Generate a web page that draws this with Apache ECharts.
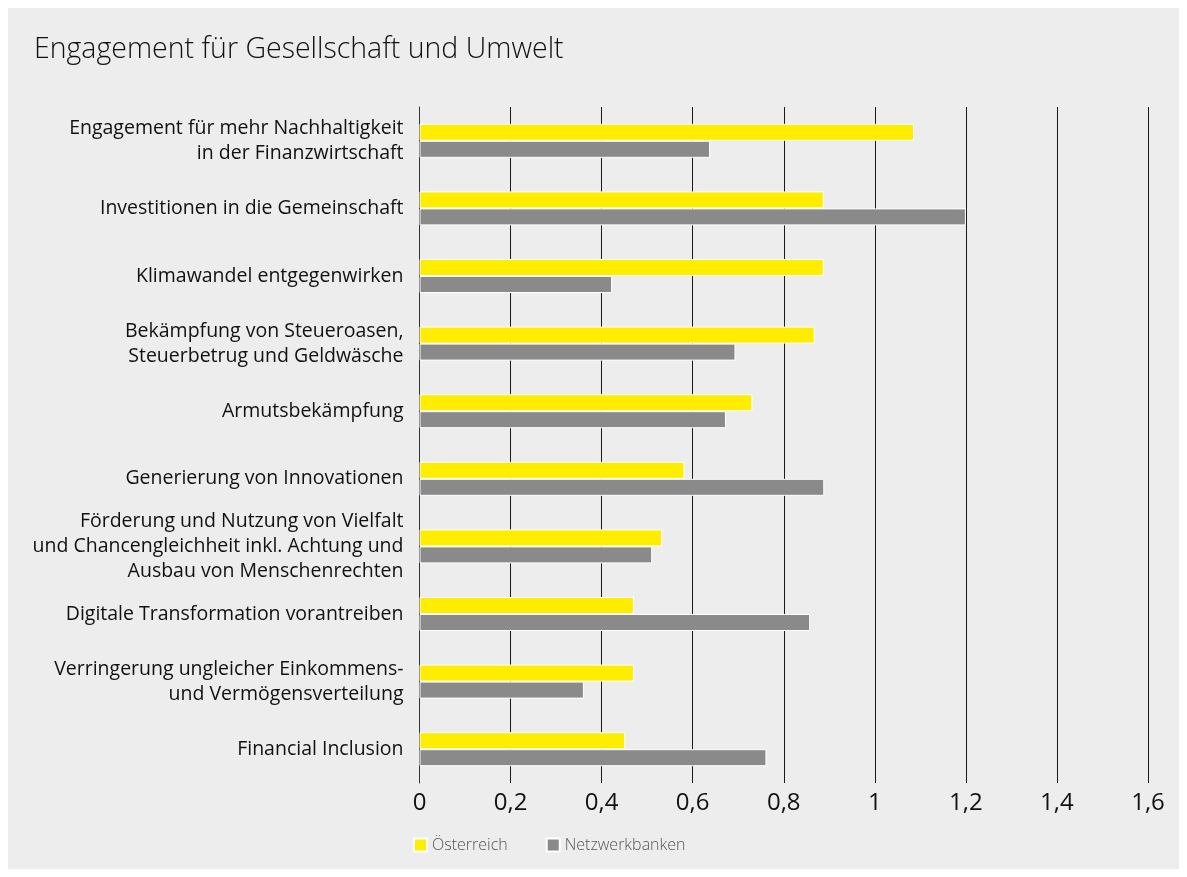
<!DOCTYPE html>
<html>
<head>
<meta charset="utf-8">
<title>Engagement für Gesellschaft und Umwelt</title>
<script src="https://cdn.jsdelivr.net/npm/echarts@6/dist/echarts.min.js"></script>
<style>
  html, body { margin: 0; padding: 0; background: #ffffff; }
  #chart { position: absolute; left: 8px; top: 8px; width: 1171px; height: 861px; background: #ecedec; }
</style>
</head>
<body>
<div id="chart"></div>
<script>
// Kategorien (von oben nach unten)
var categories = [
  'Engagement für mehr Nachhaltigkeit\nin der Finanzwirtschaft',
  'Investitionen in die Gemeinschaft',
  'Klimawandel entgegenwirken',
  'Bekämpfung von Steueroasen,\nSteuerbetrug und Geldwäsche',
  'Armutsbekämpfung',
  'Generierung von Innovationen',
  'Förderung und Nutzung von Vielfalt\nund Chancengleichheit inkl. Achtung und\nAusbau von Menschenrechten',
  'Digitale Transformation vorantreiben',
  'Verringerung ungleicher Einkommens-\nund Vermögensverteilung',
  'Financial Inclusion'
];
var seriesNames = ['Österreich', 'Netzwerkbanken'];
var oesterreich = [1.086, 0.888, 0.888, 0.868, 0.731, 0.582, 0.533, 0.471, 0.471, 0.452];
var netzwerkbanken = [0.638, 1.2, 0.423, 0.694, 0.673, 0.889, 0.511, 0.858, 0.361, 0.762];

var font = '"Open Sans", "DejaVu Sans", sans-serif';

var myChart = echarts.init(document.getElementById('chart'));

function barSeries(name, data, color) {
  return {
    name: name,
    type: 'bar',
    data: data,
    barWidth: 17,
    barGap: '0%',
    itemStyle: {
      color: color,
      borderColor: '#ffffff',
      borderWidth: 1
    }
  };
}

var option = {
  animation: false,
  title: {
    text: 'Engagement für Gesellschaft und Umwelt',
    left: 21,
    top: 22,
    textStyle: {
      fontFamily: font,
      fontWeight: 300,
      fontSize: 28.5,
      color: '#111111'
    }
  },
  legend: {
    data: seriesNames,
    left: 400,
    top: 824,
    itemWidth: 13,
    itemHeight: 13,
    itemGap: 38,
    icon: 'rect',
    textStyle: {
      fontFamily: font,
      fontWeight: 300,
      fontSize: 16,
      color: '#555555'
    }
  },
  grid: {
    left: 411.5,
    right: 31,
    top: 99,
    bottom: 86
  },
  xAxis: {
    type: 'value',
    min: 0,
    max: 1.6,
    interval: 0.2,
    axisLine: { show: false },
    axisTick: { show: false },
    splitLine: {
      show: true,
      lineStyle: { color: '#1a1a1a', width: 1 }
    },
    axisLabel: {
      margin: 8,
      fontFamily: font,
      fontWeight: 500,
      fontSize: 24,
      color: '#111111',
      formatter: function (v) {
        return String(parseFloat(v.toFixed(1))).replace('.', ',');
      }
    }
  },
  yAxis: {
    type: 'category',
    inverse: true,
    data: categories,
    axisLine: { show: true, lineStyle: { color: '#333333', width: 1 } },
    axisTick: { show: false },
    axisLabel: {
      margin: 16,
      fontFamily: font,
      fontWeight: 500,
      fontSize: 19.5,
      lineHeight: 25,
      color: '#111111'
    }
  },
  series: [
    barSeries(seriesNames[0], oesterreich, '#ffed00'),
    barSeries(seriesNames[1], netzwerkbanken, '#8a8a8a')
  ]
};
myChart.setOption(option);
window.addEventListener('resize', function () {
  myChart.resize();
});
</script>
</body>
</html>
